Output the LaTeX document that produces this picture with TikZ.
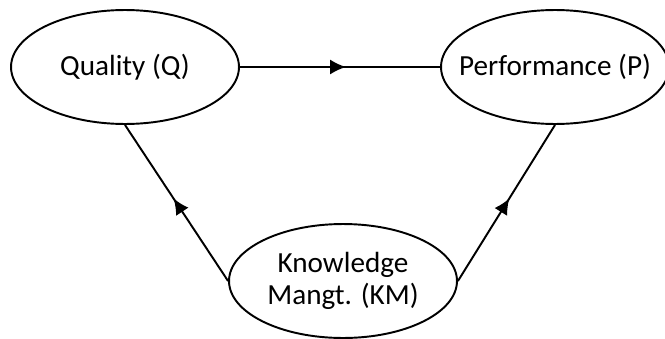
\documentclass[tikz,border=0pt]{standalone}
\usepackage{fontspec}
\setmainfont{Carlito}
\usetikzlibrary{arrows.meta,shapes.geometric,decorations.markings}

\begin{document}
\begin{tikzpicture}[x=0.02cm,y=-0.02cm,
  every node/.style={ellipse,draw,line width=1.1pt,inner sep=0pt,align=center,
                     minimum width=4.56cm,minimum height=2.28cm,
                     font=\fontsize{16.6pt}{18.2pt}\selectfont},
  midarrow/.style={line width=1.1pt,postaction={decorate},
    decoration={markings,mark=at position 0.53 with {\arrow{Latex[length=9pt,width=8.5pt]}}}}]
\useasboundingbox (0,0) rectangle (665,338);
\node (q) at (125,67) {\makebox[0pt]{Quality (Q)}};
\node (p) at (555,67) {\makebox[0pt]{Performance (P)}};
\node (km) at (343,281) {\makebox[0pt]{Knowledge}\\\makebox[0pt]{Mangt. (KM)}};
\draw[midarrow] (q.east) -- (p.west);
\draw[midarrow] (km.west) -- (q.south);
\draw[midarrow] (km.east) -- (p.south);
\end{tikzpicture}
\end{document}
